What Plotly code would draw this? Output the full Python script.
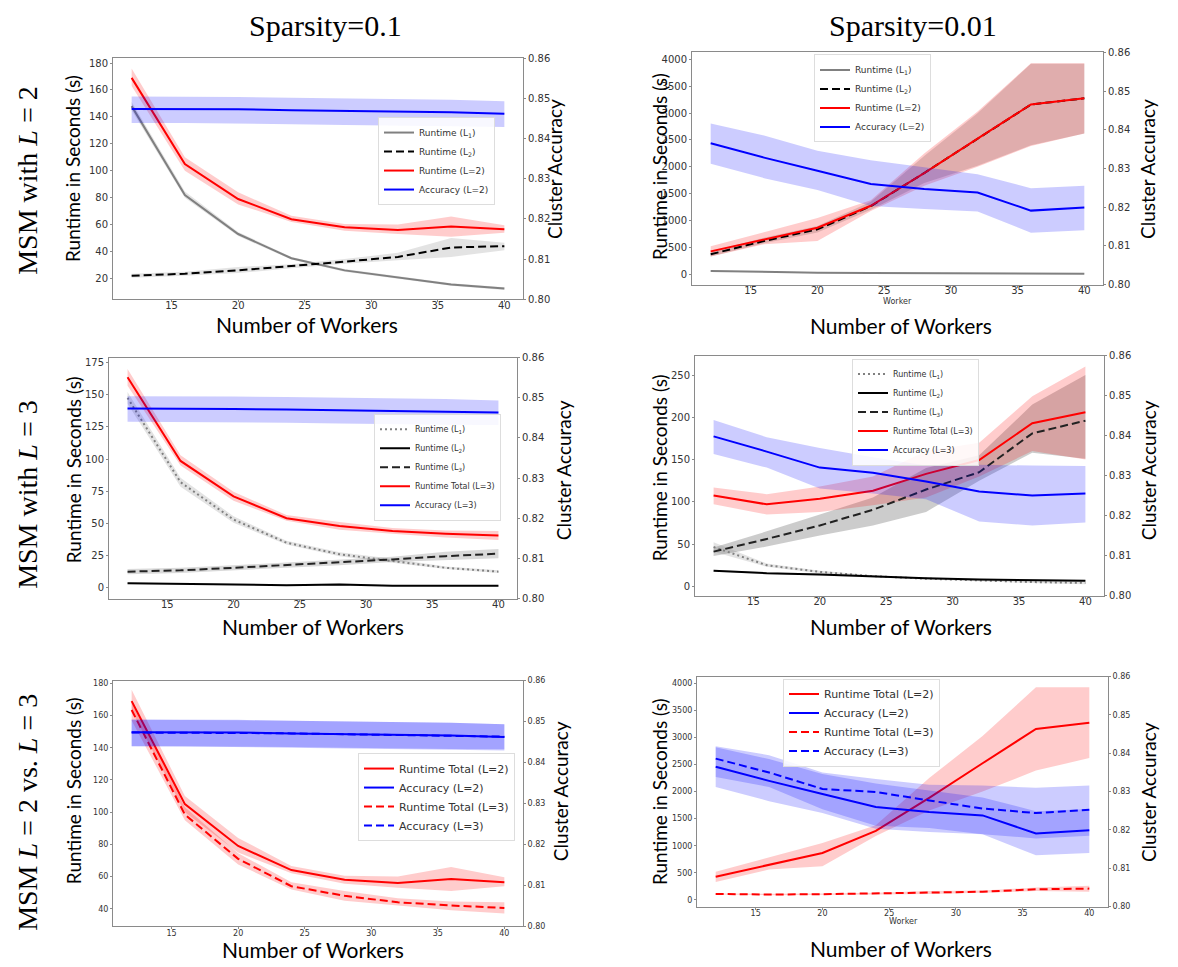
import plotly.graph_objects as go

W, H = 1178, 967

workers = [12, 16, 20, 24, 28, 32, 36, 40]
x_ticks = [15, 20, 25, 30, 35, 40]
acc_ticks = [0.80, 0.81, 0.82, 0.83, 0.84, 0.85, 0.86]

# ---------- Panel 1: Sparsity=0.1, L=2 ----------
p1_l1 = [148, 82, 53, 35, 26, 20.5, 15.5, 12.5]
p1_l1_lo = [145, 80, 51.5, 34, 25, 19.5, 14.5, 11.5]
p1_l1_hi = [151, 84.5, 54.5, 36, 27, 21.5, 16.5, 13.5]
p1_l2 = [22, 23.5, 26, 29, 32.5, 36, 43, 44]
p1_l2_lo = [20.5, 22, 24, 27.5, 31, 33.5, 36, 41]
p1_l2_hi = [23.5, 25, 28.5, 30.5, 34.5, 39, 50, 46.5]
p1_tot = [169, 105, 79, 64, 58, 56, 58.5, 56.5]
p1_tot_lo = [163, 100, 75, 62, 55.5, 53, 51, 54]
p1_tot_hi = [176, 110, 84, 66.5, 60.5, 60, 66, 59.5]
p1_acc = [0.8474, 0.8474, 0.8473, 0.8471, 0.8469, 0.8467, 0.8466, 0.8462]
p1_acc_lo = [0.8439, 0.8439, 0.8438, 0.8436, 0.8434, 0.8432, 0.8431, 0.8429]
p1_acc_hi = [0.8505, 0.8505, 0.8504, 0.8502, 0.8500, 0.8498, 0.8497, 0.8493]

# ---------- Panel 2: Sparsity=0.01, L=2 ----------
p2_l1 = [60, 40, 30, 25, 20, 18, 15, 12]
p2_l1_lo = [50, 32, 22, 17, 12, 10, 7, 4]
p2_l1_hi = [70, 48, 38, 33, 28, 26, 23, 20]
p2_l2 = [372, 620, 836, 1268, 1885, 2525, 3160, 3275]
p2_l2_lo = [330, 580, 780, 1200, 1700, 2020, 2400, 2620]
p2_l2_hi = [420, 680, 900, 1350, 2200, 3000, 3920, 3920]
p2_tot = [427, 650, 866, 1275, 1885, 2525, 3160, 3275]
p2_tot_lo = [330, 560, 620, 1180, 1650, 2000, 2390, 2620]
p2_tot_hi = [520, 780, 1050, 1380, 2250, 3030, 3930, 3930]
p2_acc = [0.8365, 0.8328, 0.8294, 0.8260, 0.8247, 0.8238, 0.8191, 0.8199]
p2_acc_lo = [0.8312, 0.8275, 0.8244, 0.8203, 0.8195, 0.8189, 0.8134, 0.8140]
p2_acc_hi = [0.8416, 0.8385, 0.8346, 0.8321, 0.8303, 0.8285, 0.8249, 0.8255]

# ---------- Panel 3: Sparsity=0.1, L=3 ----------
p3_l1 = [147.5, 82, 53, 35, 26, 21, 15.5, 12.5]
p3_l1_lo = [143, 78.5, 50.5, 33.5, 24.5, 19.5, 14.5, 11.5]
p3_l1_hi = [152, 85.5, 55.5, 36.5, 27.5, 22.5, 16.5, 13.5]
p3_l2 = [3.5, 3, 2.5, 2, 2.5, 1.5, 1.5, 1.5]
p3_l2_lo = [3, 2.5, 2, 1.5, 1.5, 1, 1, 1]
p3_l2_hi = [4, 3.5, 3, 2.5, 3.5, 2, 2, 2]
p3_l3 = [12.5, 13.5, 15.5, 17.5, 19.5, 22, 24.5, 26.5]
p3_l3_lo = [10.5, 11.5, 13.5, 15.5, 17.5, 20, 21.5, 23]
p3_l3_hi = [14.5, 15.5, 17.5, 19.5, 21.5, 24, 28, 30]
p3_tot = [163.5, 98.5, 71, 54, 48, 44, 42, 40.5]
p3_tot_lo = [157, 95, 67.5, 52, 45, 42, 39, 37]
p3_tot_hi = [170, 103, 74.5, 56.5, 51, 46.5, 44.5, 44]
p3_acc = [0.8473, 0.8473, 0.8472, 0.8471, 0.8469, 0.8467, 0.8466, 0.8463]
p3_acc_lo = [0.8440, 0.8440, 0.8439, 0.8438, 0.8436, 0.8434, 0.8433, 0.8432]
p3_acc_hi = [0.8504, 0.8504, 0.8503, 0.8502, 0.8500, 0.8498, 0.8497, 0.8493]

# ---------- Panel 4: Sparsity=0.01, L=3 ----------
p4_l1 = [46.5, 25, 17, 12, 9, 7, 5, 4]
p4_l1_lo = [41, 23, 15.5, 11, 8, 6, 4, 2.5]
p4_l1_hi = [52, 27, 18.5, 13, 10, 8, 6, 5.5]
p4_l2 = [18.5, 15.5, 14, 11.5, 9.5, 8, 7, 6.5]
p4_l2_lo = [17.5, 14.5, 13, 10.5, 8.5, 7, 6, 5.5]
p4_l2_hi = [19.5, 16.5, 15, 12.5, 10.5, 9, 8, 7.5]
p4_l3 = [41, 56, 72, 90.5, 114.5, 135, 181, 196]
p4_l3_lo = [36, 47, 60, 72, 88, 125, 158, 151]
p4_l3_hi = [46, 65, 85, 105, 140, 155, 215, 250]
p4_tot = [107.5, 97, 103.5, 113, 133, 149.5, 193, 206]
p4_tot_lo = [97, 85, 88, 96, 105, 130, 160, 150]
p4_tot_hi = [117, 109, 118, 130, 160, 170, 225, 260]
p4_acc = [0.8398, 0.8360, 0.8320, 0.8307, 0.8285, 0.8260, 0.8250, 0.8255]
p4_acc_lo = [0.8354, 0.8320, 0.8268, 0.8255, 0.8241, 0.8185, 0.8175, 0.8183]
p4_acc_hi = [0.8439, 0.8396, 0.8369, 0.8346, 0.8325, 0.8327, 0.8325, 0.8324]

# ---------- Panel 6: Sparsity=0.01, L=3 accuracy as drawn in comparison ----------
p6_acc3 = [0.8386, 0.8350, 0.8307, 0.8299, 0.8277, 0.8256, 0.8244, 0.8253]
p6_acc3_lo = [0.8338, 0.8312, 0.8254, 0.8211, 0.8205, 0.8189, 0.8178, 0.8185]
p6_acc3_hi = [0.8418, 0.8395, 0.8350, 0.8333, 0.8318, 0.8316, 0.8310, 0.8316]

# ---------- styling ----------
RED, BLUE, BLACK, GRAY = "#ff0000", "#0000ff", "#000000", "#808080"
RED_BAND = "rgba(255,0,0,0.2)"
BLUE_BAND = "rgba(0,0,255,0.2)"
GRAY_BAND = "rgba(128,128,128,0.22)"
GRAY_BAND2 = "rgba(128,128,128,0.3)"
GRAY_BAND_DARK = "rgba(128,128,128,0.4)"
DASH = "8px,4px"
DOT = "2px,3px"
TICKFONT = "DejaVu Sans"
LABELFONT = "Lato"
SERIF = "Liberation Serif"

# pixel boxes of each panel: (left, top, right, bottom), left-axis range, tick step,
# tick font size, x tick label standoff
panels = [
    dict(box=(113, 53, 523, 297), yrange=[4.5, 183.5], ytick0=20, ydt=20, tfs=10, xso=-5),
    dict(box=(692, 47, 1103, 282), yrange=[-190, 4130], ytick0=0, ydt=500, tfs=10, xso=-6),
    dict(box=(109, 356, 517, 600), yrange=[-8.4, 178.8], ytick0=0, ydt=25, tfs=10, xso=-6),
    dict(box=(695, 354, 1104, 597), yrange=[-11, 273], ytick0=0, ydt=50, tfs=10, xso=-6),
    dict(box=(113, 683, 523, 932), yrange=[29, 181.8], ytick0=40, ydt=20, tfs=8, xso=-3),
    dict(box=(697, 679, 1108, 912), yrange=[-128, 4128], ytick0=0, ydt=500, tfs=8, xso=-3),
]

fig = go.Figure()
layout = {}


def refs(i):
    xr = "x" if i == 0 else f"x{i+1}"
    yl = "y" if i == 0 else f"y{2*i+1}"
    yr = f"y{2*i+2}"
    return xr, yl, yr


for i, p in enumerate(panels):
    l, t, r, b = p["box"]
    xr, yl, yr = refs(i)
    axcommon = dict(showline=True, linecolor="#8a8a8a", linewidth=1, ticks="outside",
                    ticklen=2, tickcolor="#8a8a8a", showgrid=False, zeroline=False,
                    tickfont=dict(family=TICKFONT, size=p["tfs"], color="#333"))
    layout["xaxis" if i == 0 else f"xaxis{i+1}"] = dict(
        domain=[l / W, r / W], anchor=yl, range=[10.6, 41.4], tickvals=x_ticks,
        mirror=True, ticklabelstandoff=p["xso"], **axcommon)
    layout["yaxis" if i == 0 else f"yaxis{2*i+1}"] = dict(
        domain=[1 - b / H, 1 - t / H], anchor=xr, range=p["yrange"],
        tick0=p["ytick0"], dtick=p["ydt"], **axcommon)
    layout[f"yaxis{2*i+2}"] = dict(
        overlaying=yl, side="right", anchor=xr, range=[0.80, 0.86],
        tickvals=acc_ticks, tickformat=".2f", **axcommon)


def band(i, lo, hi, color, right=False):
    xr, yl, yr = refs(i)
    fig.add_trace(go.Scatter(
        x=workers + workers[::-1], y=hi + lo[::-1], fill="toself", fillcolor=color,
        line=dict(width=0), mode="lines", hoverinfo="skip", showlegend=False,
        xaxis=xr, yaxis=yr if right else yl))


def line(i, y, color, name, dash="solid", right=False, width=2):
    xr, yl, yr = refs(i)
    fig.add_trace(go.Scatter(
        x=workers, y=y, mode="lines", name=name,
        line=dict(color=color, width=width, dash=dash),
        legend="legend" if i == 0 else f"legend{i+1}",
        xaxis=xr, yaxis=yr if right else yl))


# Panel 1
band(0, p1_l1_lo, p1_l1_hi, GRAY_BAND)
band(0, p1_l2_lo, p1_l2_hi, GRAY_BAND)
band(0, p1_tot_lo, p1_tot_hi, RED_BAND)
line(0, p1_l1, GRAY, "Runtime (L<sub>1</sub>)")
line(0, p1_l2, BLACK, "Runtime (L<sub>2</sub>)", DASH)
line(0, p1_tot, RED, "Runtime (L=2)")
band(0, p1_acc_lo, p1_acc_hi, BLUE_BAND, right=True)
line(0, p1_acc, BLUE, "Accuracy (L=2)", right=True)

# Panel 2
band(1, p2_l1_lo, p2_l1_hi, GRAY_BAND)
band(1, p2_l2_lo, p2_l2_hi, GRAY_BAND2)
band(1, p2_tot_lo, p2_tot_hi, RED_BAND)
line(1, p2_l1, GRAY, "Runtime (L<sub>1</sub>)")
line(1, p2_l2, BLACK, "Runtime (L<sub>2</sub>)", DASH)
line(1, p2_tot, RED, "Runtime (L=2)")
band(1, p2_acc_lo, p2_acc_hi, BLUE_BAND, right=True)
line(1, p2_acc, BLUE, "Accuracy (L=2)", right=True)

# Panel 3
band(2, p3_l1_lo, p3_l1_hi, GRAY_BAND)
band(2, p3_l2_lo, p3_l2_hi, GRAY_BAND)
band(2, p3_l3_lo, p3_l3_hi, GRAY_BAND2)
band(2, p3_tot_lo, p3_tot_hi, RED_BAND)
line(2, p3_l1, GRAY, "Runtime (L<sub>1</sub>)", DOT)
line(2, p3_l2, BLACK, "Runtime (L<sub>2</sub>)")
line(2, p3_l3, "#222222", "Runtime (L<sub>3</sub>)", DASH)
line(2, p3_tot, RED, "Runtime Total (L=3)")
band(2, p3_acc_lo, p3_acc_hi, BLUE_BAND, right=True)
line(2, p3_acc, BLUE, "Accuracy (L=3)", right=True)

# Panel 4
band(3, p4_l1_lo, p4_l1_hi, GRAY_BAND)
band(3, p4_l2_lo, p4_l2_hi, GRAY_BAND)
band(3, p4_l3_lo, p4_l3_hi, GRAY_BAND_DARK)
band(3, p4_tot_lo, p4_tot_hi, RED_BAND)
line(3, p4_l1, GRAY, "Runtime (L<sub>1</sub>)", DOT)
line(3, p4_l2, BLACK, "Runtime (L<sub>2</sub>)")
line(3, p4_l3, "#222222", "Runtime (L<sub>3</sub>)", DASH)
line(3, p4_tot, RED, "Runtime Total (L=3)")
band(3, p4_acc_lo, p4_acc_hi, BLUE_BAND, right=True)
line(3, p4_acc, BLUE, "Accuracy (L=3)", right=True)

# Panel 5 (Sparsity=0.1, L=2 vs L=3)
band(4, p1_tot_lo, p1_tot_hi, RED_BAND)
band(4, p3_tot_lo, p3_tot_hi, RED_BAND)
line(4, p1_tot, RED, "Runtime Total (L=2)")
band(4, p1_acc_lo, p1_acc_hi, BLUE_BAND, right=True)
line(4, p1_acc, BLUE, "Accuracy (L=2)", right=True)
line(4, p3_tot, RED, "Runtime Total (L=3)", DASH)
band(4, p3_acc_lo, p3_acc_hi, BLUE_BAND, right=True)
line(4, p3_acc, BLUE, "Accuracy (L=3)", DASH, right=True)

# Panel 6 (Sparsity=0.01, L=2 vs L=3)
band(5, p2_tot_lo, p2_tot_hi, RED_BAND)
band(5, p4_tot_lo, p4_tot_hi, RED_BAND)
line(5, p2_tot, RED, "Runtime Total (L=2)")
band(5, p2_acc_lo, p2_acc_hi, BLUE_BAND, right=True)
line(5, p2_acc, BLUE, "Accuracy (L=2)", right=True)
line(5, p4_tot, RED, "Runtime Total (L=3)", DASH)
band(5, p6_acc3_lo, p6_acc3_hi, BLUE_BAND, right=True)
line(5, p6_acc3, BLUE, "Accuracy (L=3)", DASH, right=True)

# legends: (right edge px, anchor y px, y anchor, font size)
legend_pos = [(495, 157, "middle", 9), (931, 49, "top", 9), (501, 467, "middle", 8),
              (979, 357, "top", 8), (515, 801, "middle", 11), (940, 681, "top", 11)]
for i, (rx, ay, ya, fs) in enumerate(legend_pos):
    layout["legend" if i == 0 else f"legend{i+1}"] = dict(
        x=rx / W, y=1 - ay / H, xanchor="right", yanchor=ya,
        bgcolor="rgba(255,255,255,0.85)", bordercolor="#dddddd", borderwidth=1,
        font=dict(family=TICKFONT, size=fs, color="#333"), tracegroupgap=0,
        traceorder="normal")

ann = []
# column titles
ann.append(dict(text="Sparsity=0.1", x=325 / W, y=1 - 20 / H, font=dict(family=SERIF, size=30, color="black")))
ann.append(dict(text="Sparsity=0.01", x=913 / W, y=1 - 20 / H, font=dict(family=SERIF, size=30, color="black")))
# row labels
ann.append(dict(text="MSM with <i>L</i> = 2", x=28 / W, y=1 - 177 / H, textangle=-90, font=dict(family=SERIF, size=28, color="black")))
ann.append(dict(text="MSM with <i>L</i> = 3", x=28 / W, y=1 - 495 / H, textangle=-90, font=dict(family=SERIF, size=28, color="black")))
ann.append(dict(text="MSM <i>L</i> = 2 vs. <i>L</i> = 3", x=28 / W, y=1 - 817 / H, textangle=-90, font=dict(family=SERIF, size=28, color="black")))

# axis labels (x center px, y center px)
xlab = [(307, 323), (901, 324), (313, 628), (901, 628), (313, 955), (901, 954)]
ylab_l = [(73, 165), (660, 163), (73, 470), (659, 468), (73, 795), (659, 796)]
ylab_r = [(555, 165), (1148, 165), (563, 470), (1148, 470), (560, 795), (1148, 796)]
for (x1, y1) in xlab:
    ann.append(dict(text="Number of Workers", x=x1 / W, y=1 - y1 / H, font=dict(family=LABELFONT, size=21, color="black")))
for (x1, y1) in ylab_l:
    ann.append(dict(text="Runtime in Seconds (s)", x=x1 / W, y=1 - y1 / H, textangle=-90, font=dict(family=LABELFONT, size=19, color="black")))
for (x1, y1) in ylab_r:
    ann.append(dict(text="Cluster Accuracy", x=x1 / W, y=1 - y1 / H, textangle=-90, font=dict(family=LABELFONT, size=19, color="black")))
for (x1, y1) in [(897, 299), (903, 927)]:
    ann.append(dict(text="Worker", x=x1 / W, y=1 - y1 / H, font=dict(family=TICKFONT, size=8, color="#333")))

for a in ann:
    a.update(xref="paper", yref="paper", xanchor="center", yanchor="middle", showarrow=False)

fig.update_layout(
    width=W, height=H, margin=dict(l=0, r=0, t=0, b=0),
    paper_bgcolor="white", plot_bgcolor="white",
    annotations=ann, **layout)

fig.write_html("out.html")
